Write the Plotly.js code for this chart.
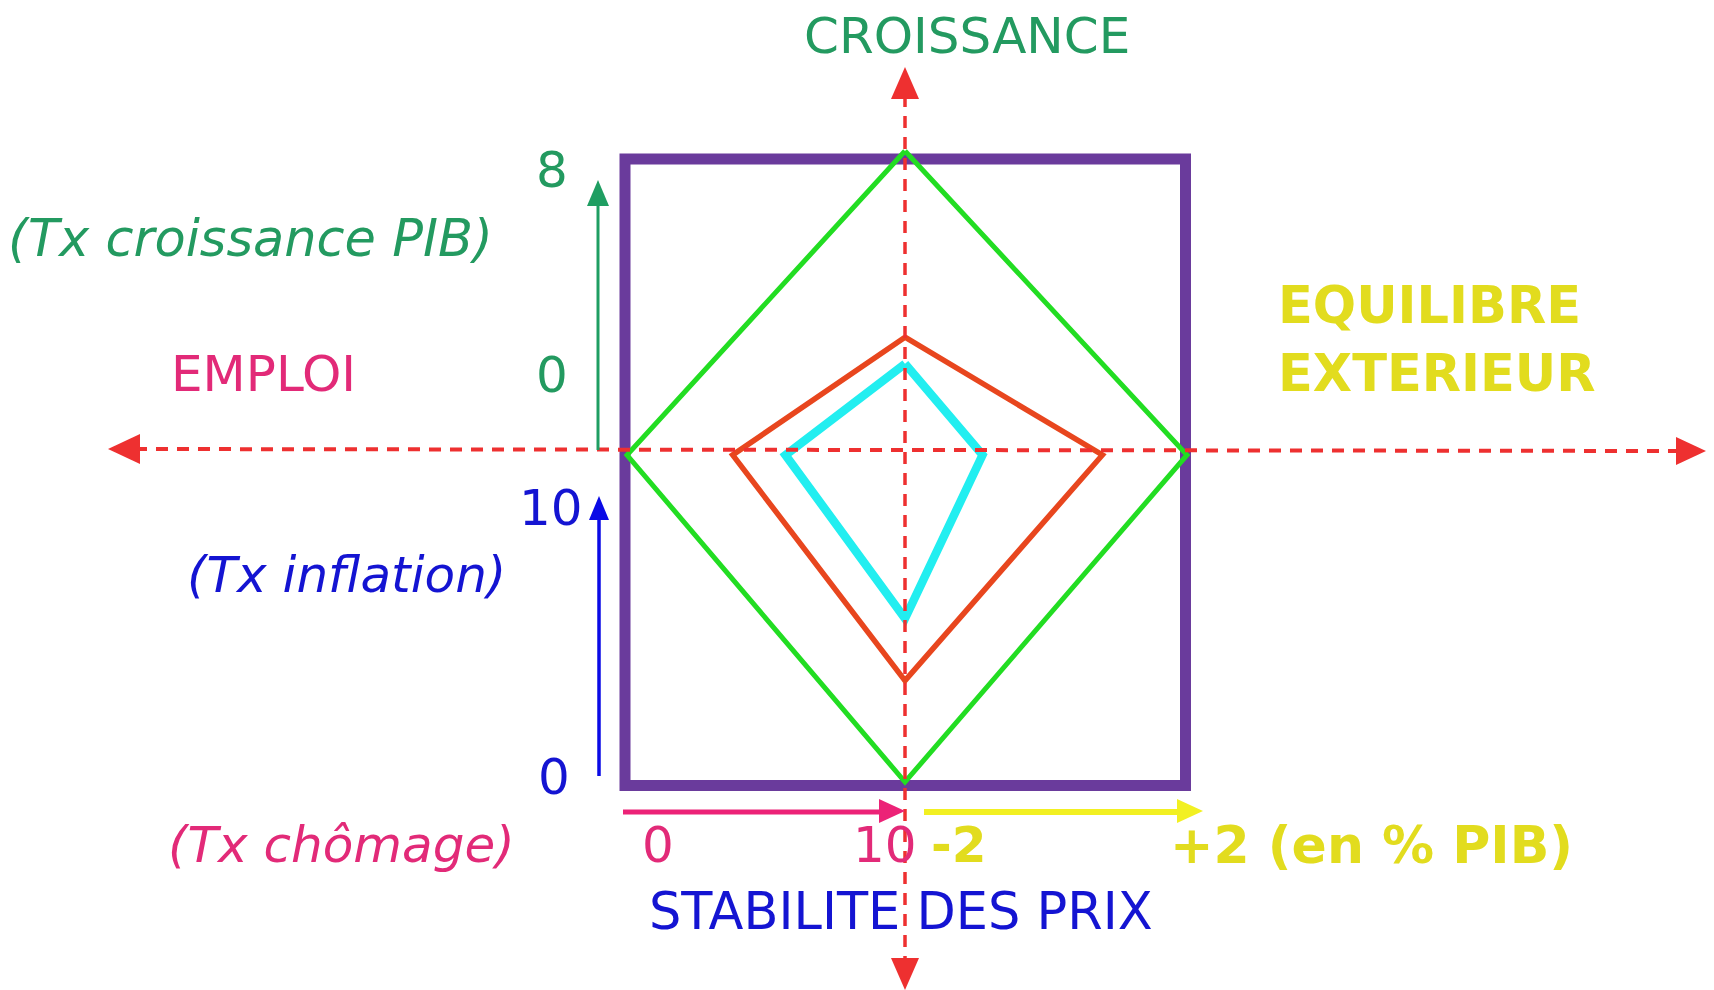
<!DOCTYPE html>
<html><head><meta charset="utf-8">
<script src="https://cdn.plot.ly/plotly-3.0.1.min.js"></script>
<style>html,body{margin:0;padding:0;background:#fff;} #chart{width:1714px;height:990px;}</style>
</head><body><div id="chart"></div>
<script>
// ---- Data: Kaldor's "carré magique" ----
const situations   = ['Carré idéal', 'Situation 1', 'Situation 2'];
const growth       = [8, 3.1, 2.4];    // Tx croissance PIB (%)
const unemployment = [0, 3.8, 5.7];    // Tx chômage (%)
const inflation    = [0, 3.1, 5.0];    // Tx inflation (%)
const balance      = [2, 0.8, -0.9];   // Equilibre extérieur (en % PIB)

const growthTicks       = ['0', '8'];
const inflationTicks    = ['10', '0'];
const unemploymentTicks = ['0', '10'];
const balanceTicks      = ['-2', '+2 (en % PIB)'];

// ---- Scales (value -> plot coordinate) ----
const CX = 905, CY = 455;
const G = v => CY - (v / 8) * (CY - 151);            // croissance: 0..8 upward
const U = v => 627 + (v / 10) * (CX - 627);           // chômage: 0 (left) .. 10 (centre)
const I = v => 782 - (v / 10) * (782 - CY);           // inflation: 0 (bottom) .. 10 (centre)
const B = v => CX + ((v + 2) / 4) * (1187 - CX);       // solde: -2 (centre) .. +2 (right)

const polyColors = ['#22dd22', '#e8461e', '#22eef0'];
const polyWidths = [5, 5.5, 8.5];

const traces = [];
situations.forEach((name, k) => {
  traces.push({
    type: 'scatter', mode: 'lines', name: name,
    x: [CX, B(balance[k]), CX, U(unemployment[k]), CX],
    y: [G(growth[k]), CY, I(inflation[k]), CY, G(growth[k])],
    line: {color: polyColors[k], width: polyWidths[k], shape: 'linear'},
    hoverinfo: 'name'
  });
});

// dashed red axes
const RED = '#ee3030';
traces.push({type: 'scatter', mode: 'lines', x: [135, 1680], y: [449, 451],
  line: {color: RED, width: 4, dash: '12px,9px'}, hoverinfo: 'skip'});
traces.push({type: 'scatter', mode: 'lines', x: [905, 905], y: [95, 962],
  line: {color: RED, width: 3.5, dash: '12px,9px'}, hoverinfo: 'skip'});

// solid axis arrows: [x0,y0,x1,y1,color,width]
const arrows = [
  [598, 450, 598, 200, '#1f9e62', 3],
  [599, 776, 599, 515, '#0a0ae6', 3.5],
  [623, 812, 882, 812, '#ec2277', 5],
  [924, 812, 1180, 812, '#f2f022', 6]
];
arrows.forEach(a => traces.push({type: 'scatter', mode: 'lines', x: [a[0], a[2]], y: [a[1], a[3]],
  line: {color: a[4], width: a[5]}, hoverinfo: 'skip'}));

function head(tx, ty, dir, len, hw, color) {
  let p;
  if (dir === 'up')    p = `M${tx},${ty} L${tx-hw},${ty+len} L${tx+hw},${ty+len} Z`;
  if (dir === 'down')  p = `M${tx},${ty} L${tx-hw},${ty-len} L${tx+hw},${ty-len} Z`;
  if (dir === 'left')  p = `M${tx},${ty} L${tx+len},${ty-hw} L${tx+len},${ty+hw} Z`;
  if (dir === 'right') p = `M${tx},${ty} L${tx-len},${ty-hw} L${tx-len},${ty+hw} Z`;
  return {type: 'path', xref: 'x', yref: 'y', path: p, fillcolor: color, line: {width: 0}, layer: 'above'};
}

const shapes = [
  {type: 'rect', xref: 'x', yref: 'y', x0: 625, x1: 1185.5, y0: 159, y1: 785.5,
   line: {color: '#6a3b9c', width: 11}, layer: 'below'},
  head(108, 449, 'left', 32, 15, RED),
  head(1706, 451, 'right', 30, 14, RED),
  head(905, 67, 'up', 32, 14, RED),
  head(905, 990, 'down', 32, 14, RED),
  head(598, 180, 'up', 26, 11, '#1f9e62'),
  head(599, 496, 'up', 24, 10, '#0a0ae6'),
  head(905, 811, 'right', 26, 12, '#ec2277'),
  head(1203, 811, 'right', 26, 12, '#f2f022')
];

const GREEN = '#239a60', PINK = '#e22a78', YEL = '#e2dc1e', BLUE = '#1414d2';
const F = 'DejaVu Sans, Verdana, sans-serif';
function lab(text, x, y, color, anchor, size) {
  return {xref: 'x', yref: 'y', x: x, y: y, text: text, showarrow: false,
    xanchor: anchor || 'center', yanchor: 'middle',
    font: {family: F, size: size || 50, color: color}};
}
const annotations = [
  lab('CROISSANCE', 967, 36, GREEN),
  lab(growthTicks[1], 552, 170, GREEN),
  lab('<i>(Tx croissance PIB)</i>', 250, 238, GREEN, 'center', 51),
  lab('EMPLOI', 263, 374, PINK),
  lab(growthTicks[0], 552, 375, GREEN),
  lab('<b>EQUILIBRE</b>', 1276, 305, YEL, 'left', 51),
  lab('<b>EXTERIEUR</b>', 1276, 373, YEL, 'left', 51),
  lab(inflationTicks[0], 551, 508, BLUE),
  lab('<i>(Tx inflation)</i>', 346, 575, BLUE),
  lab(inflationTicks[1], 554, 777, BLUE),
  lab('<i>(Tx chômage)</i>', 341, 845, PINK),
  lab(unemploymentTicks[0], 658, 845, PINK),
  lab(unemploymentTicks[1], 885, 845, PINK),
  lab('<b>' + balanceTicks[0] + '</b>', 959, 845, YEL),
  lab('<b>' + balanceTicks[1] + '</b>', 1168, 845, YEL, 'left', 52),
  lab('STABILITE DES PRIX', 901, 911, BLUE, 'center', 51)
];

const layout = {
  width: 1714, height: 990,
  margin: {l: 0, r: 0, t: 0, b: 0, pad: 0},
  paper_bgcolor: '#ffffff', plot_bgcolor: '#ffffff',
  showlegend: false,
  xaxis: {range: [0, 1714], visible: false, fixedrange: true},
  yaxis: {range: [990, 0], visible: false, fixedrange: true},
  shapes: shapes,
  annotations: annotations
};
Plotly.newPlot('chart', traces, layout, {staticPlot: true});
</script>
</body></html>
